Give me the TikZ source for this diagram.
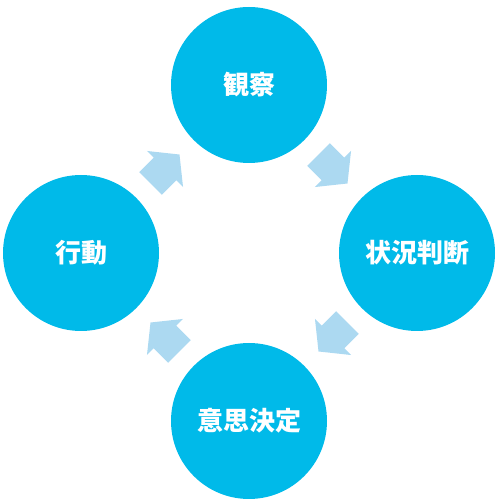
\documentclass[tikz,border=0pt]{standalone}
\usepackage{fontspec}
\newfontfamily\jp{Noto Sans CJK JP}
\usetikzlibrary{calc}
\definecolor{circblue}{RGB}{0,186,233}
\definecolor{arrblue}{RGB}{172,217,241}
\tikzset{
  stage/.style={circle, fill=circblue, minimum size=156pt, inner sep=0pt,
    text=white, font=\jp\bfseries\fontsize{26pt}{28pt}\selectfont},
  blockarrow/.style={fill=arrblue}
}
\newcommand{\blockarr}[3]{%
  \begin{scope}[shift={($(#1)!0.5!(#2)$)}, rotate=#3]
    \fill[blockarrow] (-20.5,-16) -- (0,-16) -- (0,-25.5) -- (20.5,0) -- (0,25.5) -- (0,16) -- (-20.5,16) -- cycle;
  \end{scope}}
\begin{document}
\begin{tikzpicture}[x=1pt,y=1pt]
  \useasboundingbox (0,0) rectangle (500,504);
  \node[stage] (obs) at (249,419) {観察};
  \node[stage] (sit) at (417,251) {状況判断};
  \node[stage] (dec) at (249,83) {意思決定};
  \node[stage] (act) at (81,251) {行動};
  \blockarr{obs}{sit}{-45}
  \blockarr{sit}{dec}{-135}
  \blockarr{dec}{act}{135}
  \blockarr{act}{obs}{45}
\end{tikzpicture}
\end{document}
